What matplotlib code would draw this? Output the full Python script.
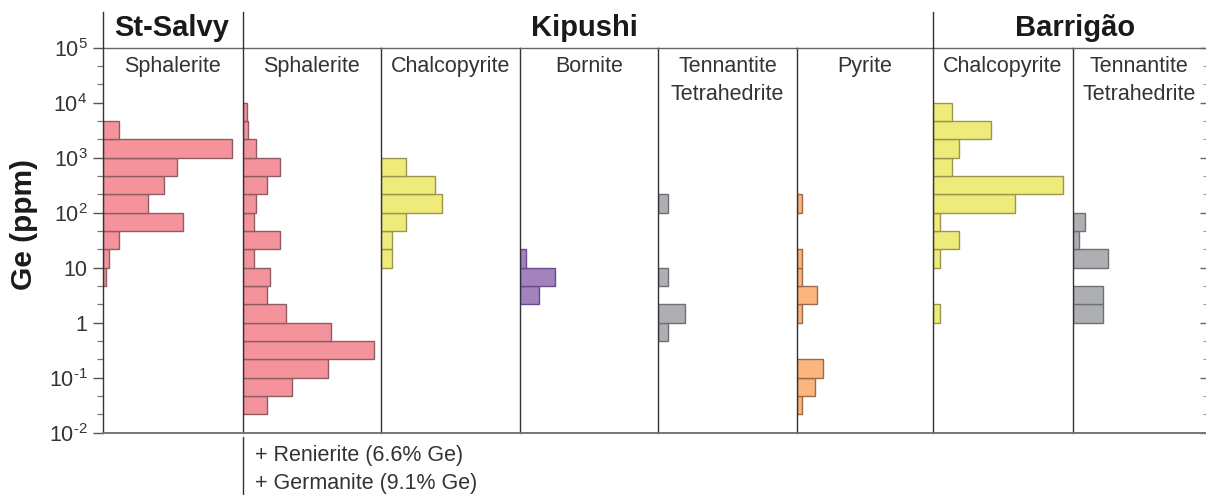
import numpy as np
import matplotlib
matplotlib.use("Agg")
import matplotlib.pyplot as plt
from matplotlib.lines import Line2D
from matplotlib.ticker import FixedLocator, NullFormatter

plt.rcParams['font.family'] = ['Liberation Sans', 'DejaVu Sans']
plt.rcParams['mathtext.fontset'] = 'custom'
plt.rcParams['mathtext.rm'] = 'Liberation Sans'
plt.rcParams['mathtext.it'] = 'Liberation Sans:italic'
plt.rcParams['mathtext.bf'] = 'Liberation Sans:bold'

# ---------------- data ----------------
# bins are 1/3 decade wide; bin index b spans 10^(b/3) .. 10^((b+1)/3) ppm
localities = ["St-Salvy", "Kipushi", "Barrigão"]
minerals = ["Sphalerite", "Sphalerite", "Chalcopyrite", "Bornite",
            "Tennantite\nTetrahedrite", "Pyrite", "Chalcopyrite",
            "Tennantite\nTetrahedrite"]

stsalvy_sph_bins = [2, 3, 4, 5, 6, 7, 8, 9, 10]
stsalvy_sph_vals = [2, 4.5, 11.5, 57, 32, 43.5, 53, 92.5, 11.5]

kip_sph_bins = [-5, -4, -3, -2, -1, 0, 1, 2, 3, 4, 5, 6, 7, 8, 9, 10, 11]
kip_sph_vals = [17.5, 36, 61.5, 95, 64, 31.5, 17.5, 19.5, 8.5, 27, 8.5, 10,
                17.5, 27, 10, 4, 3.5]

kip_ccp_bins = [3, 4, 5, 6, 7, 8]
kip_ccp_vals = [8, 8, 17.5, 43.5, 38.5, 17.5]

kip_bn_bins = [1, 2, 3]
kip_bn_vals = [14, 25, 4.5]

kip_tn_bins = [-1, 0, 2, 6]
kip_tn_vals = [7, 19, 7, 7]

kip_py_bins = [-5, -4, -3, 0, 1, 2, 3, 6]
kip_py_vals = [3.5, 13, 19, 3.5, 15, 3.5, 3.5, 3.5]

bar_ccp_bins = [0, 3, 4, 5, 6, 7, 8, 9, 10, 11]
bar_ccp_vals = [5.5, 5.5, 18.5, 5.5, 58.5, 93, 14, 18.5, 41.5, 14]

bar_tn_bins = [0, 1, 3, 4, 5]
bar_tn_vals = [22.5, 22.5, 26.5, 5, 9]

ytick_vals = [1e-2, 1e-1, 1, 10, 1e2, 1e3, 1e4, 1e5]
ytick_labels = [r'$\mathregular{10^{\text{-}2}}$', r'$\mathregular{10^{\text{-}1}}$',
                '1', '10',
                r'$\mathregular{10^{2}}$', r'$\mathregular{10^{3}}$',
                r'$\mathregular{10^{4}}$', r'$\mathregular{10^{5}}$']

notes = ["+ Renierite (6.6% Ge)", "+ Germanite (9.1% Ge)"]

# ---------------- styles ----------------
PINK = ('#F4939C', '#8E5C62')
YELLOW = ('#EFEB7B', '#9A9650')
PURPLE = ('#A283BD', '#6B4A8A')
GRAY = ('#ADAFB3', '#6E7074')
ORANGE = ('#FBB57E', '#9C6A48')

panels = [
    (stsalvy_sph_bins, stsalvy_sph_vals, PINK),
    (kip_sph_bins, kip_sph_vals, PINK),
    (kip_ccp_bins, kip_ccp_vals, YELLOW),
    (kip_bn_bins, kip_bn_vals, PURPLE),
    (kip_tn_bins, kip_tn_vals, GRAY),
    (kip_py_bins, kip_py_vals, ORANGE),
    (bar_ccp_bins, bar_ccp_vals, YELLOW),
    (bar_tn_bins, bar_tn_vals, GRAY),
]

W, H = 1206, 495
fig = plt.figure(figsize=(W / 100, H / 100), dpi=100)

edges_px = [103, 242.5, 381.3, 520, 658.3, 797, 932.7, 1072.7, 1206]
top_px, bot_px = 47.7, 432.7

def fx(px):
    return px / W

def fy(py):
    return 1 - py / H

minor_locs = [10 ** (k + j / 3) for k in range(-2, 5) for j in (1, 2)]
for i, (bins, vals, (fc, ec)) in enumerate(panels):
    l, r = edges_px[i], edges_px[i + 1]
    ax = fig.add_axes([fx(l), fy(bot_px), fx(r - l), (bot_px - top_px) / H])
    bins = np.asarray(bins, dtype=float)
    lo = 10 ** (bins / 3)
    hi = 10 ** ((bins + 1) / 3)
    ax.barh(lo, vals, height=hi - lo, align='edge', color=fc, edgecolor=ec,
            linewidth=1.0)
    ax.set_yscale('log')
    ax.set_ylim(1e-2, 1e5)
    ax.set_xlim(0, 100)
    ax.set_xticks([])
    ax.spines['right'].set_visible(False)
    ax.spines['left'].set_color('#333333')
    ax.spines['left'].set_linewidth(1.0)
    ax.spines['top'].set_color('#666666')
    ax.spines['top'].set_linewidth(1.0)
    ax.spines['bottom'].set_color('#777777')
    ax.spines['bottom'].set_linewidth(1.4)
    ax.yaxis.set_major_locator(FixedLocator(ytick_vals))
    ax.yaxis.set_minor_locator(FixedLocator(minor_locs))
    ax.yaxis.set_minor_formatter(NullFormatter())
    if i == 0:
        ax.set_yticklabels(ytick_labels)
        ax.tick_params(axis='y', which='major', length=7.2, width=1.0,
                       color='#555555', labelsize=15.5, labelcolor='#333333',
                       pad=4)
        ax.tick_params(axis='y', which='minor', length=4.3, width=0.9,
                       color='#777777')
    elif i == len(panels) - 1:
        ax.yaxis.tick_right()
        ax.tick_params(axis='y', which='major', direction='in', length=4.5,
                       width=1.0, color='#666666', labelright=False)
        ax.tick_params(axis='y', which='minor', direction='in', length=2.2,
                       width=0.8, color='#999999', labelright=False)
    else:
        ax.tick_params(axis='y', which='both', left=False, labelleft=False)
    # mineral subtitle
    fig.text(fx((l + r) / 2), fy(56), minerals[i], ha='center', va='top',
             fontsize=15.5, color='#333333', linespacing=1.45)

# header lines and labels
for xp in [103, 243, 933]:
    fig.add_artist(Line2D([fx(xp), fx(xp)], [fy(12), fy(48)],
                          color='#333333', lw=1.0))
header_centers = [172, 584, 1075]
for name, xc in zip(localities, header_centers):
    fig.text(fx(xc), fy(28), name, ha='center', va='center',
             fontsize=21, fontweight='bold', color='#1a1a1a')

# y label
fig.text(fx(24), fy(224), 'Ge (ppm)', rotation=90, ha='center', va='center',
         fontsize=21.5, fontweight='bold', color='#1a1a1a')

# line below Kipushi sphalerite + notes
fig.add_artist(Line2D([fx(243), fx(243)], [fy(437), fy(495)],
                      color='#333333', lw=1.0))
for k, note in enumerate(notes):
    fig.text(fx(255), fy(456 + 27 * k), note, ha='left', va='center',
             fontsize=15.5, color='#333333')

fig.savefig('out.png', dpi=100)
